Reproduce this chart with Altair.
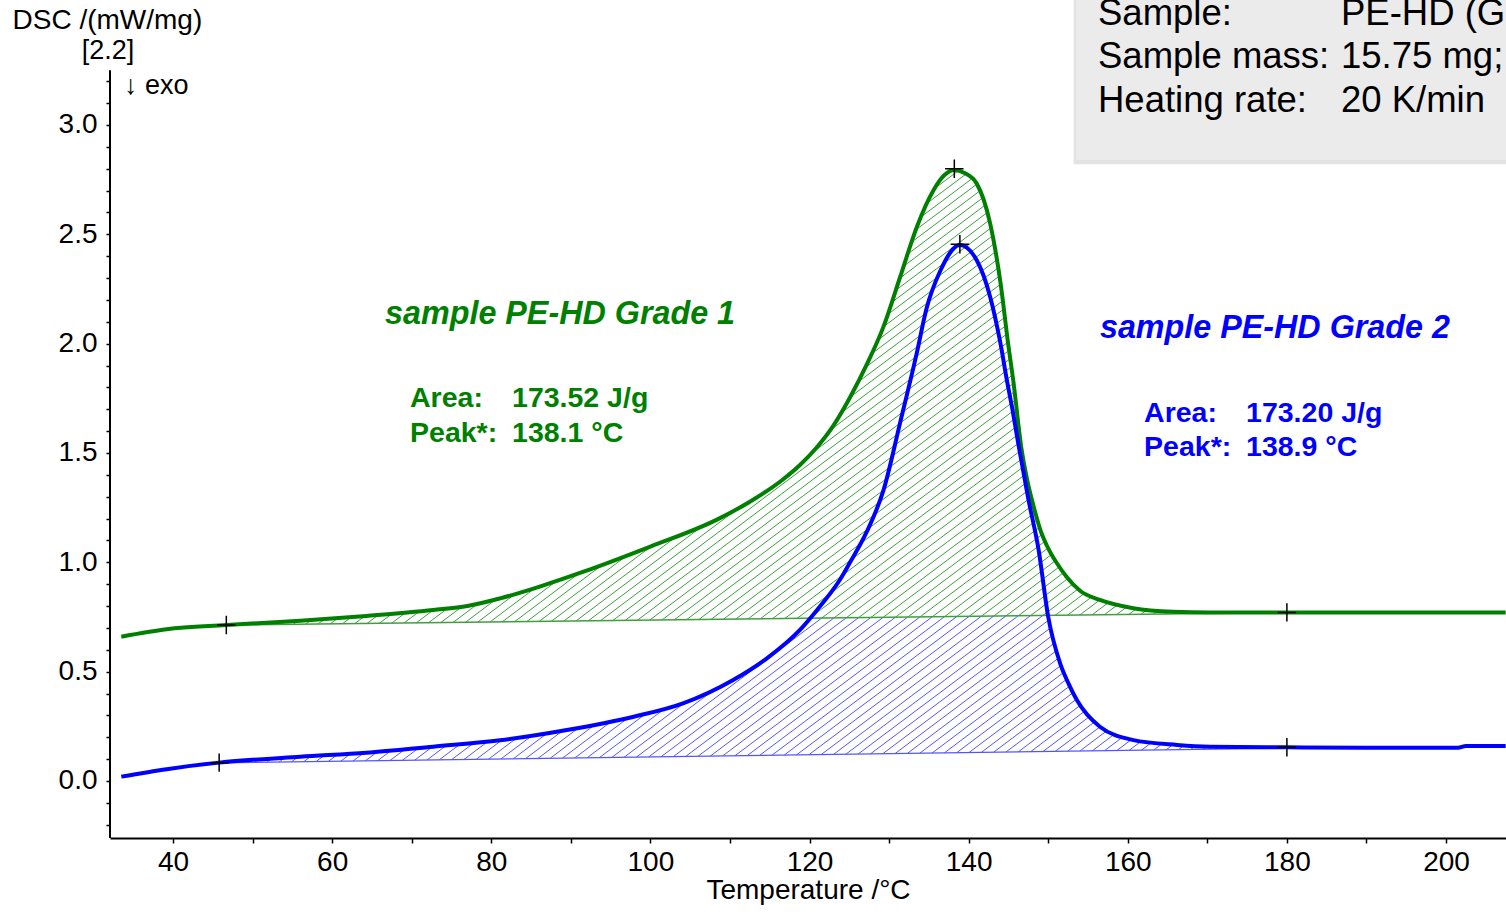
import altair as alt
import numpy as np
import pandas as pd

FONT = "Liberation Sans"

# ---------------- data ----------------
x_ticks = list(range(40, 201, 10))
y_ticks = [round(-0.2 + 0.1 * i, 1) for i in range(35)]  # -0.2 ... 3.2

x_min, x_max = 32.08, 207.54
y_min, y_max = -0.2607, 3.5716
y_axis_top = 3.25

green_T = [33.5, 39.2, 46.7, 56.0, 64.3, 72.7, 77.0, 81.1, 86.0, 91.6, 100.0, 108.3,
           112.5, 116.7, 118.8, 120.9, 123.0, 125.1, 127.2, 129.3, 131.4, 133.5, 135.6, 137.0,
           138.2, 139.5, 141.0, 142.7, 144.0, 145.0, 145.6, 146.6, 147.4, 148.1, 149.0,
           150.2, 151.2, 152.3, 154.0, 156.5, 160.7, 165.7, 170.3, 180.0, 190.0, 200.0, 207.5]
green_v = [0.660, 0.694, 0.713, 0.733, 0.755, 0.782, 0.800, 0.835, 0.888, 0.957, 1.072, 1.194,
           1.277, 1.380, 1.445, 1.525, 1.625, 1.755, 1.905, 2.078, 2.306, 2.535, 2.703, 2.772,
           2.794, 2.780, 2.733, 2.550, 2.280, 1.990, 1.834, 1.530, 1.370, 1.265, 1.150,
           1.050, 0.990, 0.934, 0.870, 0.828, 0.790, 0.774, 0.771, 0.771, 0.771, 0.771, 0.771]

blue_T = [33.5, 39.2, 45.8, 56.0, 64.3, 72.7, 81.1, 89.5, 97.9, 104.1, 110.4, 114.6,
          118.8, 120.9, 123.8, 125.1, 127.2, 129.3, 131.4, 133.5, 134.7, 136.4, 138.9,
          141.0, 142.7, 144.0, 144.8, 145.5, 146.3, 147.5, 148.8, 150.0, 151.5, 152.5,
          153.6, 156.5, 160.7, 166.2, 170.3, 180.0, 190.0, 201.5, 202.5, 207.5]
blue_v = [0.020, 0.054, 0.084, 0.111, 0.129, 0.157, 0.186, 0.233, 0.294, 0.355, 0.462, 0.560,
          0.691, 0.780, 0.919, 1.000, 1.140, 1.330, 1.640, 1.960, 2.160, 2.330, 2.451,
          2.383, 2.215, 2.001, 1.834, 1.700, 1.530, 1.290, 1.056, 0.751, 0.538, 0.450,
          0.370, 0.248, 0.187, 0.165, 0.157, 0.154, 0.152, 0.152, 0.160, 0.160]

# integration baselines (start, end)
green_base_T = [46.7, 180.0]
green_base_v = [0.713, 0.770]
blue_base_T = [45.8, 180.0]
blue_base_v = [0.083, 0.150]

# evaluation markers (+): start, peak, end
green_mark_T = [46.7, 138.2, 180.0]
green_mark_v = [0.713, 2.800, 0.771]
blue_mark_T = [45.8, 138.9, 180.0]
blue_mark_v = [0.084, 2.455, 0.154]

GREEN = "#008000"
BLUE = "#0000ff"
GREEN_HATCH = "#3f9f3f"
BLUE_HATCH = "#5555ff"

# ---------------- hatch geometry (derived from the curves) ----------------
HATCH_SLOPE = 0.0273   # mW/mg per degC
HATCH_STEP = 1.52      # degC between hatch lines


def base_fn(bT, bv):
    return lambda t: bv[0] + (bv[1] - bv[0]) * (np.asarray(t) - bT[0]) / (bT[1] - bT[0])


def hatch_segments(T, V, bT, bv, cap=None):
    t0, t1 = bT
    grid = np.arange(t0, t1 + 1e-9, 0.01)
    upper = np.interp(grid, T, V)
    base = base_fn(bT, bv)(grid)
    if cap is not None:
        upper = np.minimum(upper, cap(grid))
    k, step = HATCH_SLOPE, HATCH_STEP
    n_lo = int(np.floor((t0 - upper.max() / k) / step)) - 2
    n_hi = int(np.ceil((t1 - base.min() / k) / step)) + 2
    segs = []
    for n in range(n_lo, n_hi + 1):
        c = n * step
        lv = k * (grid - c)
        inside = (lv >= base) & (lv <= upper)
        if not inside.any():
            continue
        idx = np.flatnonzero(inside)
        splits = np.flatnonzero(np.diff(idx) > 1)
        starts = np.r_[idx[0], idx[splits + 1]]
        ends = np.r_[idx[splits], idx[-1]]
        for s, e in zip(starts, ends):
            if e > s:
                segs.append({"T": grid[s], "v": lv[s], "T2": grid[e], "v2": lv[e]})
    return pd.DataFrame(segs)


green_hatch = hatch_segments(green_T, green_v, green_base_T, green_base_v)
blue_hatch = hatch_segments(blue_T, blue_v, blue_base_T, blue_base_v,
                            cap=base_fn(green_base_T, green_base_v))

# ---------------- scales & axes ----------------
xs = alt.Scale(domain=[x_min, x_max], nice=False, zero=False)
ys = alt.Scale(domain=[y_min, y_max], nice=False, zero=False)

x_axis = alt.Axis(
    values=x_ticks, title="Temperature /°C",
    labelExpr="datum.value % 20 == 0 ? format(datum.value, 'd') : ''",
    labelFontSize=28, labelFont=FONT, labelColor="black", labelPadding=5,
    labelOverlap=False, labelFlush=False,
    tickSize=5, tickColor="black", tickWidth=1.5,
    domainColor="black", domainWidth=2, grid=False,
    titleFont=FONT, titleFontSize=28, titleFontWeight="normal", titleColor="black",
    titlePadding=0,
)
y_axis = alt.Axis(
    values=y_ticks, title="DSC /(mW/mg)",
    labelExpr="(datum.value > -0.01 && abs(datum.value * 2 - round(datum.value * 2)) < 0.01) ? format(datum.value, '.1f') : ''",
    labelFontSize=28, labelFont=FONT, labelColor="black", labelPadding=9,
    labelOverlap=False, labelFlush=False,
    tickSize=4, tickColor="black", tickWidth=1.5,
    domain=False, grid=False,
    titleFont=FONT, titleFontSize=28, titleFontWeight="normal", titleColor="black",
    titleAngle=0, titleAlign="left", titleBaseline="middle", titleX=-98, titleY=20,
)


def X(field="T"):
    return alt.X(f"{field}:Q", scale=xs, axis=x_axis, title="Temperature /°C")


def Y(field="v"):
    return alt.Y(f"{field}:Q", scale=ys, axis=y_axis, title="DSC /(mW/mg)")


green_df = pd.DataFrame({"T": green_T, "v": green_v})
blue_df = pd.DataFrame({"T": blue_T, "v": blue_v})

# ---------------- layers ----------------
green_line = alt.Chart(green_df).mark_line(
    color=GREEN, strokeWidth=4, interpolate="monotone", clip=True
).encode(x=X(), y=Y())

blue_line = alt.Chart(blue_df).mark_line(
    color=BLUE, strokeWidth=4, interpolate="monotone", clip=True
).encode(x=X(), y=Y())


def rules(df, color, width):
    return alt.Chart(df).mark_rule(color=color, strokeWidth=width, clip=True).encode(
        x=X(), y=Y(), x2="T2:Q", y2="v2:Q")


green_hatch_l = rules(green_hatch, GREEN_HATCH, 1.0)
blue_hatch_l = rules(blue_hatch, BLUE_HATCH, 1.0)

green_bl = rules(pd.DataFrame({"T": [green_base_T[0]], "v": [green_base_v[0]],
                               "T2": [green_base_T[1]], "v2": [green_base_v[1]]}), GREEN_HATCH, 1.4)
blue_bl = rules(pd.DataFrame({"T": [blue_base_T[0]], "v": [blue_base_v[0]],
                              "T2": [blue_base_T[1]], "v2": [blue_base_v[1]]}), BLUE_HATCH, 1.4)

marks_df = pd.DataFrame({"T": green_mark_T + blue_mark_T, "v": green_mark_v + blue_mark_v})
cross = alt.Chart(marks_df).mark_point(
    shape="M-1,0L1,0M0,-1L0,1", size=340, filled=False, color="black",
    strokeWidth=1.5, opacity=1
).encode(x=X(), y=Y())

# info box
box_df = pd.DataFrame({"T": [153.5], "T2": [x_max + 2], "v": [2.84], "v2": [y_max + 0.1]})
shadow_df = pd.DataFrame({"T": [153.2], "T2": [x_max + 2], "v": [2.82], "v2": [y_max + 0.1]})
shadow = alt.Chart(shadow_df).mark_rect(color="#e3e3e3", clip=True).encode(
    x=X(), x2="T2:Q", y=Y(), y2="v2:Q")
box = alt.Chart(box_df).mark_rect(color="#ebebeb", clip=True).encode(
    x=X(), x2="T2:Q", y=Y(), y2="v2:Q")

info_labels = ["Sample:", "Sample mass:", "Heating rate:"]
info_values = ["PE-HD (Grade 1 / Grade 2)", "15.75 mg;", "20 K/min"]
info_v = [3.508, 3.311, 3.110]
info_df = pd.DataFrame({
    "T": [156.26] * 3 + [186.8] * 3,
    "v": info_v + info_v,
    "text": info_labels + info_values,
})
info_text = alt.Chart(info_df).mark_text(
    align="left", baseline="middle", font=FONT, fontSize=36.5, color="black", clip=True
).encode(x=X(), y=Y(), text="text:N")

# curve annotations
title_df = pd.DataFrame({
    "T": [66.65, 156.5], "v": [2.136, 2.072],
    "text": ["sample PE-HD Grade 1", "sample PE-HD Grade 2"],
    "color": [GREEN, BLUE],
})
title_text = alt.Chart(title_df).mark_text(
    align="left", baseline="middle", font=FONT, fontSize=32.3, fontStyle="italic", fontWeight="bold"
).encode(x=X(), y=Y(), text="text:N", color=alt.Color("color:N", scale=None))

stat_df = pd.DataFrame({
    "T": [69.79, 82.61, 69.79, 82.61, 162.05, 174.87, 162.05, 174.87],
    "v": [1.752, 1.752, 1.591, 1.591, 1.683, 1.683, 1.527, 1.527],
    "text": ["Area:", "173.52 J/g", "Peak*:", "138.1 °C",
             "Area:", "173.20 J/g", "Peak*:", "138.9 °C"],
    "color": [GREEN] * 4 + [BLUE] * 4,
})
stat_text = alt.Chart(stat_df).mark_text(
    align="left", baseline="middle", font=FONT, fontSize=28.5, fontWeight="bold"
).encode(x=X(), y=Y(), text="text:N", color=alt.Color("color:N", scale=None))

# y-axis line (stops below the top of the plot)
axis_df = pd.DataFrame({"T": [x_min], "v": [y_min], "v2": [y_axis_top]})
y_line = alt.Chart(axis_df).mark_rule(color="black", strokeWidth=2).encode(
    x=X(), y=Y(), y2="v2:Q")

extra_df = pd.DataFrame({"text": ["[2.2]", "↓ exo"]})
extra1 = alt.Chart(extra_df.iloc[[0]]).mark_text(
    align="center", baseline="middle", font=FONT, fontSize=27, color="black"
).encode(x=alt.value(108 - 110), y=alt.value(51), text="text:N")
extra2 = alt.Chart(extra_df.iloc[[1]]).mark_text(
    align="left", baseline="middle", font=FONT, fontSize=27, color="black"
).encode(x=alt.value(124 - 110), y=alt.value(86), text="text:N")

chart = alt.layer(
    shadow, box, info_text,
    blue_hatch_l, green_hatch_l, green_bl, blue_bl,
    green_line, blue_line, cross, title_text, stat_text, y_line, extra1, extra2,
).properties(
    width=1396, height=838,
    autosize=alt.AutoSizeParams(type="none"),
    padding={"left": 110, "top": 0, "right": 0, "bottom": 74},
    background="white",
).configure_view(stroke=None)

chart.save("out.html", embed_options={"renderer": "svg", "actions": False})
